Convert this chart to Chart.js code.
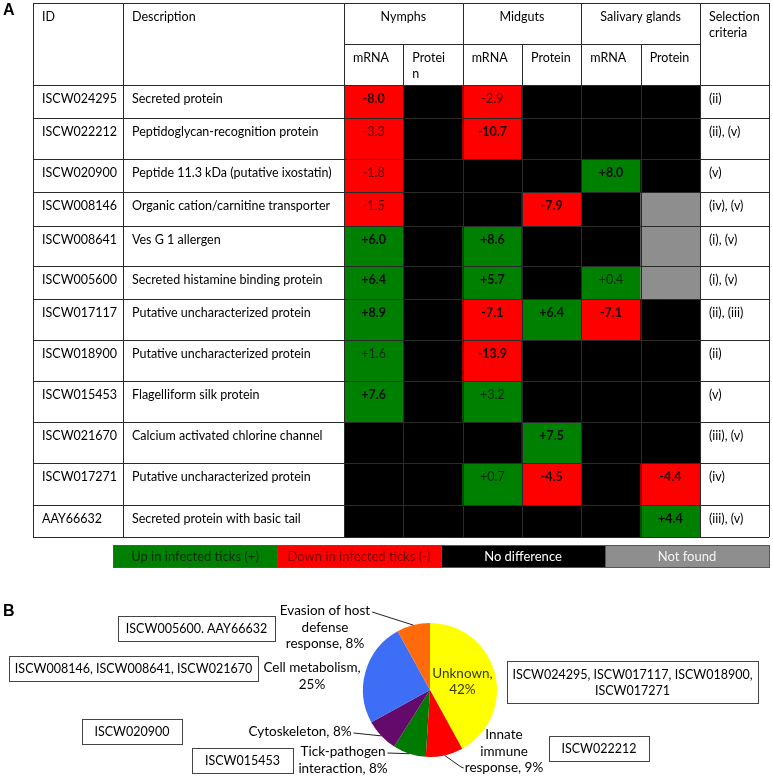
<!DOCTYPE html>
<html><head><meta charset="utf-8">
<script src="https://cdn.jsdelivr.net/npm/chart.js@4.4.1/dist/chart.umd.min.js"></script>
<style>
html,body{margin:0;padding:0;background:#fff;}
#wrap{position:relative;width:773px;height:778px;overflow:hidden;background:#fff;}
canvas{position:absolute;left:0;}
#cA{top:0;} #cB{top:580px;}
</style></head><body>
<div id="wrap"><canvas id="cA" width="773" height="580"></canvas><canvas id="cB" width="773" height="198"></canvas></div>
<script>
// ================= DATA =================
const ids = ['ISCW024295','ISCW022212','ISCW020900','ISCW008146','ISCW008641','ISCW005600','ISCW017117','ISCW018900','ISCW015453','ISCW021670','ISCW017271','AAY66632'];
const descriptions = ['Secreted protein','Peptidoglycan-recognition protein','Peptide 11.3 kDa (putative ixostatin)','Organic cation/carnitine transporter','Ves G 1 allergen','Secreted histamine binding protein','Putative uncharacterized protein','Putative uncharacterized protein','Flagelliform silk protein','Calcium activated chlorine channel','Putative uncharacterized protein','Secreted protein with basic tail'];
const criteria = ['(ii)','(ii), (v)','(v)','(iv), (v)','(i), (v)','(i), (v)','(ii), (iii)','(ii)','(v)','(iii), (v)','(iv)','(iii), (v)'];
const headerId = 'ID';
const headerDescription = 'Description';
const headerCriteria = 'Selection\ncriteria';
const tissues = ['Nymphs','Midguts','Salivary glands'];
const measureLabels = ['mRNA','Protei\nn','mRNA','Protein','mRNA','Protein'];
// null = no difference, 'NF' = not found
const nymphsMrna     = [-8.0,-3.3,-1.8,-1.5, 6.0, 6.4, 8.9, 1.6, 7.6,null,null,null];
const nymphsProtein  = [null,null,null,null,null,null,null,null,null,null,null,null];
const midgutsMrna    = [-2.9,-10.7,null,null, 8.6, 5.7,-7.1,-13.9, 3.2,null, 0.7,null];
const midgutsProtein = [null,null,null,-7.9,null,null, 6.4,null,null, 7.5,-4.5,null];
const glandsMrna     = [null,null, 8.0,null,null, 0.4,-7.1,null,null,null,null,null];
const glandsProtein  = [null,null,null,'NF','NF','NF',null,null,null,null,-4.4, 4.4];
const legendLabels = ['Up in infected ticks (+)','Down in infected ticks (-)','No difference','Not found'];

const categories = ['Unknown','Innate immune response','Tick-pathogen interaction','Cytoskeleton','Cell metabolism','Evasion of host defense response'];
const categoryShares = [42,9,8,8,25,8];
const categoryGenes = ['ISCW024295, ISCW017117, ISCW018900, ISCW017271','ISCW022212','ISCW015453','ISCW020900','ISCW008146, ISCW008641, ISCW021670','ISCW005600. AAY66632'];

// ================= STYLE / LAYOUT =================
const FONT = 'Lato, "Liberation Sans", sans-serif';
const FS = 12.5;
const GREEN = '#008000', RED = '#ff0000', BLACK = '#000000', GRAY = '#8e8e8e';
const LINE = '#2a2a2a';
const PIE_COLORS = ['#ffff00','#ff0000','#007a00','#640a6a','#3d6ef5','#ff6a0a'];
const ROW_H = [33,41,33,34,40,33,41,41,41,41,42,32];   // row heights (px) of the table body
const T_LEFT = 33, T_RIGHT = 769, T_TOP = 3, H_MID = 44, COL_DESC = 123, PADX = 9, TXT_DY = 14, LH = 16;
const LEG = {left:113, right:769, top:545, h:22};
const OYB = 580; // top of panel B canvas

const columns = [nymphsMrna, nymphsProtein, midgutsMrna, midgutsProtein, glandsMrna, glandsProtein];
function cellColor(v){ if (v === null) return BLACK; if (v === 'NF') return GRAY; return v > 0 ? GREEN : RED; }
function fmt(v){ return (v > 0 ? '+' : '') + v.toFixed(1); }
function font(sz, bold){ return (bold ? 'bold ' : '') + sz + 'px ' + FONT; }
function txt(ctx, s, x, y, align, f, color){
  ctx.font = f || font(FS); ctx.fillStyle = color || '#000';
  ctx.textAlign = align || 'left'; ctx.textBaseline = 'middle'; ctx.fillText(s, x, y);
}
function hl(ctx, x1, x2, y){ const yy = Math.round(y) + 0.5; ctx.beginPath(); ctx.moveTo(x1, yy); ctx.lineTo(x2, yy); ctx.stroke(); }
function vl(ctx, x, y1, y2){ const xx = Math.round(x) + 0.5; ctx.beginPath(); ctx.moveTo(xx, y1); ctx.lineTo(xx, y2); ctx.stroke(); }

// ================= PANEL A =================
const tablePlugin = {
  id: 'tablePlugin',
  beforeDraw(chart){
    const {ctx, chartArea: a} = chart;
    ctx.save();
    ctx.fillStyle = '#fff'; ctx.fillRect(0, 0, chart.width, chart.height);
    ctx.fillStyle = BLACK; ctx.fillRect(a.left, a.top, a.right - a.left, a.bottom - a.top);
    ctx.restore();
  },
  afterDatasetsDraw(chart){
    const {ctx, chartArea: a} = chart;
    const m0 = chart.getDatasetMeta(0).data;
    const colX = m0.map(b => ({l: b.x - b.width / 2, r: b.x + b.width / 2, c: b.x}));
    const rowY = ids.map((_, r) => { const b = chart.getDatasetMeta(r).data[0]; return {t: Math.min(b.y, b.base), b: Math.max(b.y, b.base)}; });
    const bottom = rowY[rowY.length - 1].b;
    ctx.save();
    // panel letter
    txt(ctx, 'A', 3, 11, 'left', 'bold 16px "Liberation Sans", Arial, sans-serif', '#000');
    // cell values
    columns.forEach((col, c) => col.forEach((v, r) => {
      if (typeof v === 'number') {
        const strong = Math.abs(v) >= 4;
        txt(ctx, fmt(v), colX[c].c, rowY[r].t + TXT_DY, 'center', font(FS, strong), strong ? 'rgba(0,0,0,0.92)' : 'rgba(0,0,0,0.68)');
      }
    }));
    // grid
    ctx.strokeStyle = LINE; ctx.lineWidth = 1;
    hl(ctx, T_LEFT, T_RIGHT, T_TOP);
    hl(ctx, a.left, a.right, H_MID);
    rowY.forEach(rw => hl(ctx, T_LEFT, T_RIGHT, rw.t));
    hl(ctx, T_LEFT, T_RIGHT, bottom);
    [T_LEFT, COL_DESC, a.left, colX[2].l, colX[4].l, a.right, T_RIGHT].forEach(x => vl(ctx, x, T_TOP, bottom));
    [colX[1].l, colX[3].l, colX[5].l].forEach(x => vl(ctx, x, H_MID, bottom));
    // header
    txt(ctx, headerId, T_LEFT + PADX, T_TOP + TXT_DY);
    txt(ctx, headerDescription, COL_DESC + PADX, T_TOP + TXT_DY);
    tissues.forEach((t, g) => txt(ctx, t, (colX[2 * g].l + colX[2 * g + 1].r) / 2, T_TOP + TXT_DY, 'center'));
    headerCriteria.split('\n').forEach((s, k) => txt(ctx, s, a.right + PADX, T_TOP + TXT_DY + k * LH));
    measureLabels.forEach((lab, c) => lab.split('\n').forEach((s, k) => txt(ctx, s, colX[c].l + PADX, H_MID + TXT_DY + k * LH)));
    // text columns
    ids.forEach((id, r) => {
      const y = rowY[r].t + TXT_DY;
      txt(ctx, id, T_LEFT + PADX, y);
      txt(ctx, descriptions[r], COL_DESC + PADX, y);
      txt(ctx, criteria[r], a.right + PADX, y);
    });
    // legend strip
    const segW = (LEG.right - LEG.left) / legendLabels.length;
    const segFill = [GREEN, RED, BLACK, GRAY];
    const segText = ['#0c2c0c', '#7a0000', '#ffffff', '#f4f4f4'];
    legendLabels.forEach((lab, i) => {
      const x = LEG.left + i * segW;
      ctx.fillStyle = segFill[i]; ctx.fillRect(x, LEG.top, segW, LEG.h);
      ctx.strokeStyle = '#555'; ctx.strokeRect(Math.round(x) + 0.5, LEG.top + 0.5, segW, LEG.h);
      txt(ctx, lab, x + segW / 2, LEG.top + LEG.h / 2 + 0.5, 'center', font(FS + 0.5), segText[i]);
    });
    ctx.restore();
  }
};

new Chart(document.getElementById('cA'), {
  type: 'bar',
  data: {
    labels: measureLabels.map(s => s.replace('\n', '')),
    datasets: ids.map((id, r) => ({
      label: id,
      data: columns.map(() => ROW_H[r]),
      backgroundColor: columns.map(col => cellColor(col[r])),
      borderWidth: 0, barPercentage: 1, categoryPercentage: 1, stack: 'rows'
    }))
  },
  options: {
    responsive: false, animation: false, devicePixelRatio: 1,
    layout: {padding: {left: 344, right: 73, top: 85, bottom: 43}},
    scales: {
      x: {type: 'category', display: false, stacked: true},
      y: {display: false, stacked: true, reverse: true, min: 0, max: ROW_H.reduce((s, v) => s + v, 0)}
    },
    plugins: {legend: {display: false}, tooltip: {enabled: false}}
  },
  plugins: [tablePlugin]
});

// ================= PANEL B =================
const PIE_LABELS = [
  {inside: true, words: [1, 1]},
  {cx: 504, y: 735, words: [1, 1, 2], leader: 'elbow', elbow: [461, 767]},
  {cx: 343, y: 752, words: [1, 2], leader: 'firstEnd'},
  {cx: 300, y: 732, words: [2], leader: 'firstEnd'},
  {cx: 312, y: 668, words: [2, 1], leader: null},
  {cx: 325, y: 611, words: [3, 1, 2], leader: 'firstEnd'}
];
const PIE_LH = 16.5;
const BOXES = [
  {x: 507, y: 661, w: 251, h: 42, split: 3},
  {x: 549, y: 736, w: 100, h: 25},
  {x: 192, y: 748, w: 101, h: 25},
  {x: 82,  y: 719, w: 100, h: 25},
  {x: 9,   y: 656, w: 249, h: 25},
  {x: 118, y: 616, w: 157, h: 25}
];
function wrapWords(text, counts){
  const w = text.split(' '); const out = []; let i = 0;
  counts.forEach(n => { out.push(w.slice(i, i + n).join(' ')); i += n; });
  return out;
}
const piePlugin = {
  id: 'piePlugin',
  beforeDraw(chart){ const c = chart.ctx; c.save(); c.fillStyle = '#fff'; c.fillRect(0, 0, chart.width, chart.height); c.restore(); },
  afterDraw(chart){
    const ctx = chart.ctx; const arcs = chart.getDatasetMeta(0).data;
    const PF = FS + 1;
    ctx.save();
    txt(ctx, 'B', 3, 612 - OYB, 'left', 'bold 16px "Liberation Sans", Arial, sans-serif', '#000');
    categories.forEach((cat, i) => {
      const L = PIE_LABELS[i];
      const lines = wrapWords(cat + ', ' + categoryShares[i] + '%', L.words);
      const arc = arcs[i]; const mid = (arc.startAngle + arc.endAngle) / 2; const R = arc.outerRadius;
      if (L.inside) {
        const cx = arc.x + 0.5 * R * Math.cos(mid), cy = arc.y + 0.5 * R * Math.sin(mid);
        lines.forEach((s, k) => txt(ctx, s, cx, cy + (k - (lines.length - 1) / 2) * PIE_LH, 'center', font(PF), '#3a3a00'));
        return;
      }
      const y0 = L.y - OYB;
      lines.forEach((s, k) => txt(ctx, s, L.cx, y0 + k * PIE_LH, 'center', font(PF), '#000'));
      ctx.font = font(PF);
      const ex = arc.x + R * Math.cos(mid), ey = arc.y + R * Math.sin(mid);
      ctx.strokeStyle = '#222'; ctx.lineWidth = 1;
      if (L.leader === 'firstEnd') {
        const w0 = ctx.measureText(lines[0]).width;
        ctx.beginPath(); ctx.moveTo(L.cx + w0 / 2 + 2, y0 + 1); ctx.lineTo(ex, ey); ctx.stroke();
      } else if (L.leader === 'elbow') {
        const last = lines[lines.length - 1]; const wl = ctx.measureText(last).width;
        const yl = y0 + (lines.length - 1) * PIE_LH;
        ctx.beginPath(); ctx.moveTo(ex, ey); ctx.lineTo(L.elbow[0], L.elbow[1] - OYB); ctx.lineTo(L.cx - wl / 2 - 1, yl); ctx.stroke();
      }
    });
    // gene boxes
    categoryGenes.forEach((g, i) => {
      const B = BOXES[i]; const y = B.y - OYB;
      ctx.fillStyle = '#fff'; ctx.fillRect(B.x, y, B.w, B.h);
      ctx.strokeStyle = '#444'; ctx.lineWidth = 1; ctx.strokeRect(B.x + 0.5, y + 0.5, B.w, B.h);
      let lines = [g];
      if (B.split) { const p = g.split(', '); lines = [p.slice(0, B.split).join(', ') + ',', p.slice(B.split).join(', ')]; }
      lines.forEach((s, k) => txt(ctx, s, B.x + B.w / 2, y + B.h / 2 + 0.5 + (k - (lines.length - 1) / 2) * LH, 'center', font(FS), '#000'));
    });
    ctx.restore();
  }
};

new Chart(document.getElementById('cB'), {
  type: 'pie',
  data: {labels: categories, datasets: [{data: categoryShares, backgroundColor: PIE_COLORS, borderWidth: 0, hoverOffset: 0}]},
  options: {
    responsive: false, animation: false, devicePixelRatio: 1,
    layout: {padding: {left: 363, right: 276, top: 43, bottom: 21}},
    plugins: {legend: {display: false}, tooltip: {enabled: false}}
  },
  plugins: [piePlugin]
});
</script>
</body></html>
